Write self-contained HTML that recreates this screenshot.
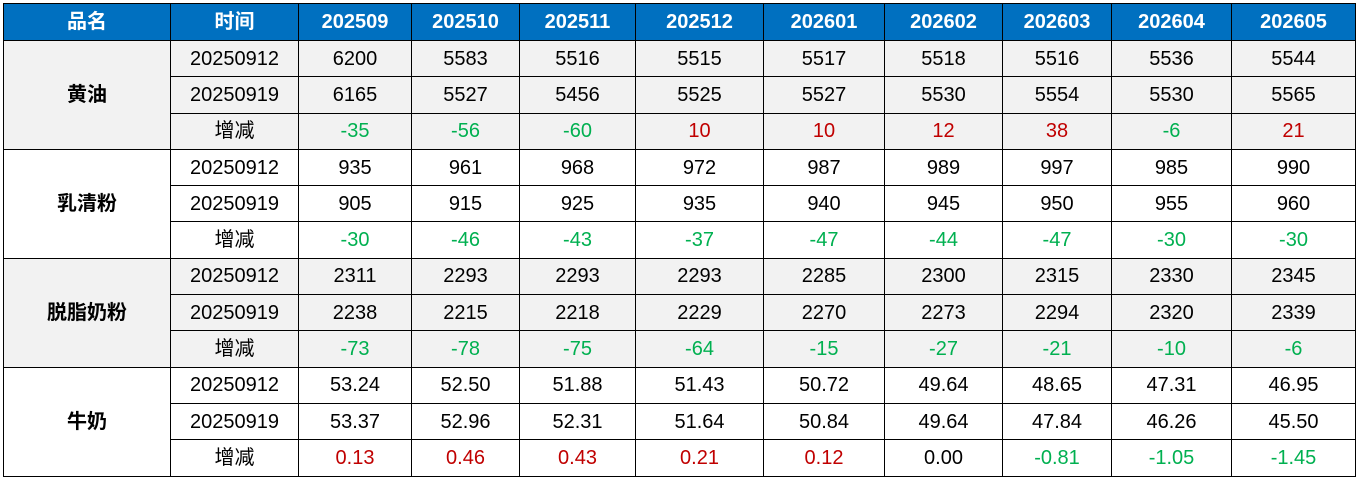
<!DOCTYPE html>
<html><head><meta charset="utf-8"><style>
body{margin:0;background:#fff;width:1359px;height:480px;overflow:hidden}
table{position:absolute;left:3px;top:3px;border-collapse:collapse;table-layout:fixed;font-family:"Liberation Sans","Noto Sans CJK SC",sans-serif;font-size:20px;color:#000}
td,th{border:1.5px solid #000;text-align:center;padding:0;height:35.3px;line-height:34px;white-space:nowrap}
th{background:#0070C0;color:#fff;font-weight:bold;height:36px;font-size:20px}
.g td{background:#F2F2F2}
.n{font-weight:bold}
.r{color:#C00000}.gr{color:#00B050}
</style></head><body>
<table>
<colgroup><col style="width:167px"><col style="width:128px"><col style="width:113px"><col style="width:108px"><col style="width:116px"><col style="width:128px"><col style="width:121px"><col style="width:118px"><col style="width:109px"><col style="width:120px"><col style="width:124px"></colgroup>
<tr><th>品名</th><th>时间</th><th>202509</th><th>202510</th><th>202511</th><th>202512</th><th>202601</th><th>202602</th><th>202603</th><th>202604</th><th>202605</th></tr>
<tr class="g"><td rowspan="3" class="n">黄油</td><td>20250912</td><td>6200</td><td>5583</td><td>5516</td><td>5515</td><td>5517</td><td>5518</td><td>5516</td><td>5536</td><td>5544</td></tr>
<tr class="g"><td>20250919</td><td>6165</td><td>5527</td><td>5456</td><td>5525</td><td>5527</td><td>5530</td><td>5554</td><td>5530</td><td>5565</td></tr>
<tr class="g"><td>增减</td><td class="gr">-35</td><td class="gr">-56</td><td class="gr">-60</td><td class="r">10</td><td class="r">10</td><td class="r">12</td><td class="r">38</td><td class="gr">-6</td><td class="r">21</td></tr>
<tr><td rowspan="3" class="n">乳清粉</td><td>20250912</td><td>935</td><td>961</td><td>968</td><td>972</td><td>987</td><td>989</td><td>997</td><td>985</td><td>990</td></tr>
<tr><td>20250919</td><td>905</td><td>915</td><td>925</td><td>935</td><td>940</td><td>945</td><td>950</td><td>955</td><td>960</td></tr>
<tr><td>增减</td><td class="gr">-30</td><td class="gr">-46</td><td class="gr">-43</td><td class="gr">-37</td><td class="gr">-47</td><td class="gr">-44</td><td class="gr">-47</td><td class="gr">-30</td><td class="gr">-30</td></tr>
<tr class="g"><td rowspan="3" class="n">脱脂奶粉</td><td>20250912</td><td>2311</td><td>2293</td><td>2293</td><td>2293</td><td>2285</td><td>2300</td><td>2315</td><td>2330</td><td>2345</td></tr>
<tr class="g"><td>20250919</td><td>2238</td><td>2215</td><td>2218</td><td>2229</td><td>2270</td><td>2273</td><td>2294</td><td>2320</td><td>2339</td></tr>
<tr class="g"><td>增减</td><td class="gr">-73</td><td class="gr">-78</td><td class="gr">-75</td><td class="gr">-64</td><td class="gr">-15</td><td class="gr">-27</td><td class="gr">-21</td><td class="gr">-10</td><td class="gr">-6</td></tr>
<tr><td rowspan="3" class="n">牛奶</td><td>20250912</td><td>53.24</td><td>52.50</td><td>51.88</td><td>51.43</td><td>50.72</td><td>49.64</td><td>48.65</td><td>47.31</td><td>46.95</td></tr>
<tr><td>20250919</td><td>53.37</td><td>52.96</td><td>52.31</td><td>51.64</td><td>50.84</td><td>49.64</td><td>47.84</td><td>46.26</td><td>45.50</td></tr>
<tr><td>增减</td><td class="r">0.13</td><td class="r">0.46</td><td class="r">0.43</td><td class="r">0.21</td><td class="r">0.12</td><td>0.00</td><td class="gr">-0.81</td><td class="gr">-1.05</td><td class="gr">-1.45</td></tr>
</table>
</body></html>
